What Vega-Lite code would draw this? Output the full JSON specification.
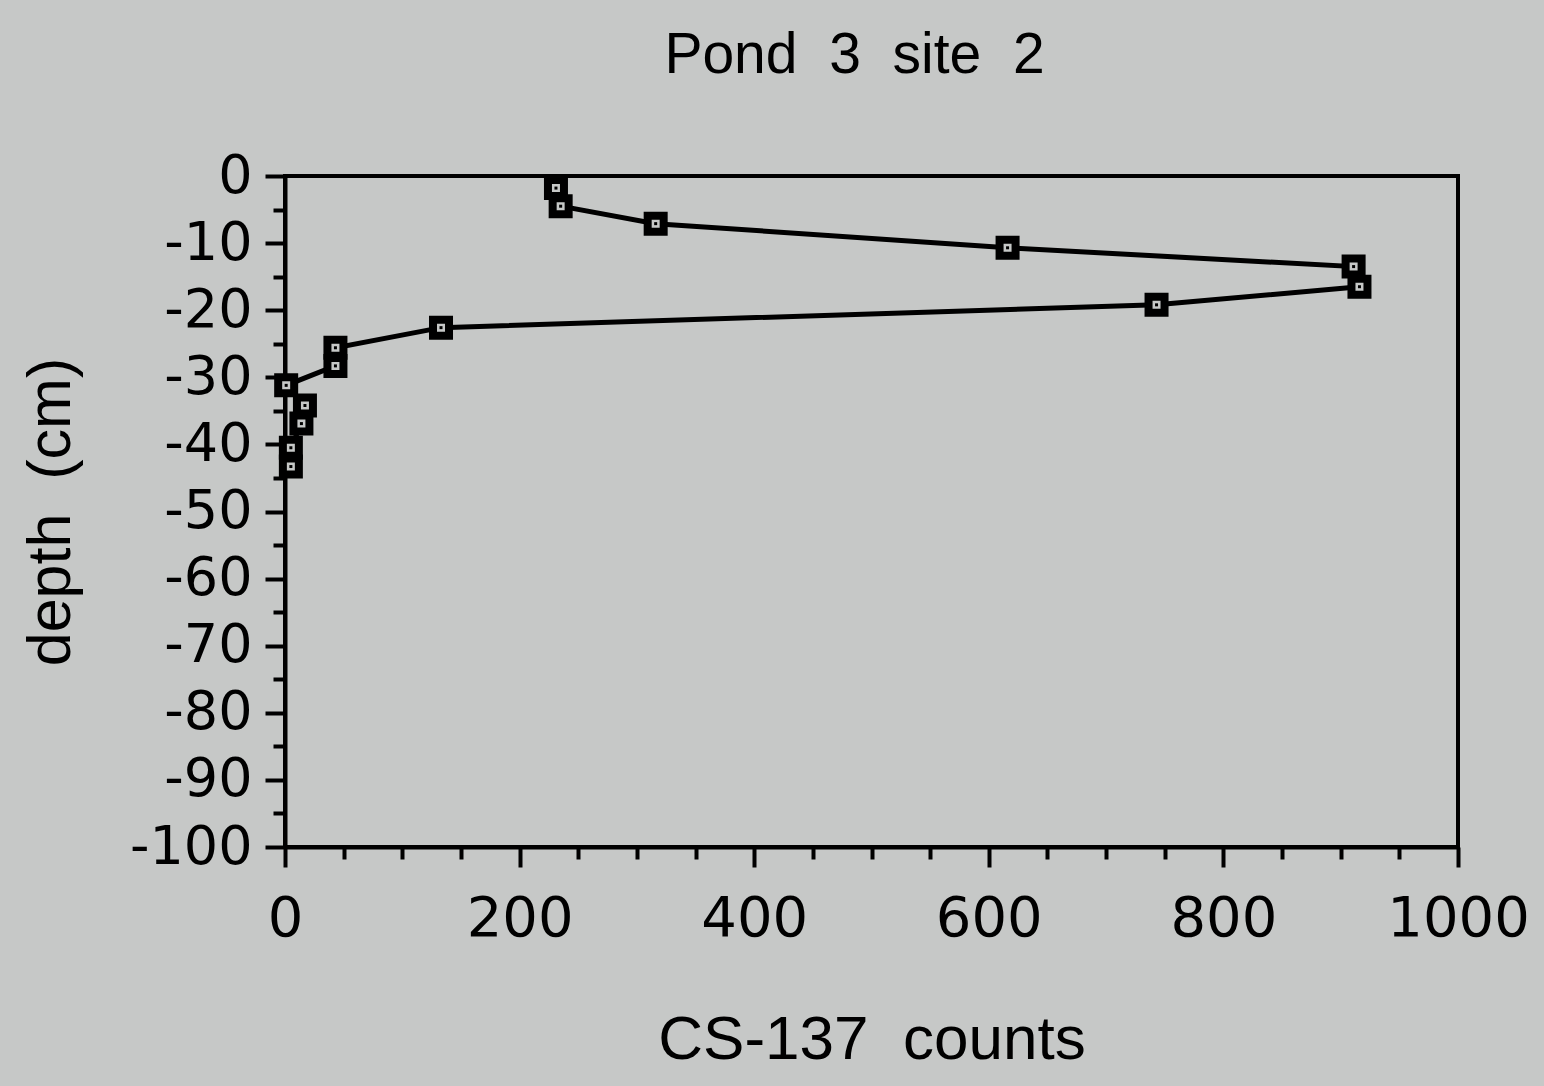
{
  "$schema": "https://vega.github.io/schema/vega-lite/v6.json",
  "width": 1173,
  "height": 671,
  "autosize": "none",
  "padding": {"left": 285, "top": 176, "right": 86, "bottom": 239},
  "background": "#c6c8c7",
  "title": {"text": "Pond\u00a0 3\u00a0 site\u00a0 2", "font": "Liberation Sans", "fontSize": 57, "fontWeight": "normal", "color": "#000000", "offset": 64, "frame": "group", "dx": -17},
  "config": {"view": {"stroke": "#000000", "strokeWidth": 4}},
  "data": {"values": [
    {"i": 1, "counts": 231, "depth": -1.8},
    {"i": 2, "counts": 235, "depth": -4.5},
    {"i": 3, "counts": 316, "depth": -7.1},
    {"i": 4, "counts": 616, "depth": -10.7},
    {"i": 5, "counts": 911, "depth": -13.5},
    {"i": 6, "counts": 916, "depth": -16.5},
    {"i": 7, "counts": 743, "depth": -19.2},
    {"i": 8, "counts": 133, "depth": -22.6},
    {"i": 9, "counts": 43, "depth": -25.6},
    {"i": 10, "counts": 43, "depth": -28.3},
    {"i": 11, "counts": 1, "depth": -31.2},
    {"i": 12, "counts": 17, "depth": -34.2},
    {"i": 13, "counts": 14, "depth": -36.9},
    {"i": 14, "counts": 5, "depth": -40.5},
    {"i": 15, "counts": 5, "depth": -43.3}
  ]},
  "encoding": {
    "x": {"field": "counts", "type": "quantitative", "scale": {"domain": [0, 1000], "nice": false, "zero": false},
      "axis": {"values": [0,50,100,150,200,250,300,350,400,450,500,550,600,650,700,750,800,850,900,950,1000],
        "labelExpr": "datum.value % 200 === 0 ? toString(datum.value) : ''",
        "tickSize": {"condition": {"test": "datum.value % 200 === 0", "value": 20}, "value": 12},
        "tickWidth": 4, "tickColor": "#000000", "domainWidth": 4, "domainColor": "#000000",
        "labelFont": "DejaVu Sans", "labelFontSize": 56, "labelColor": "#000000", "labelPadding": 24,
        "labelFlush": false, "labelOverlap": false, "grid": false,
        "title": "CS-137\u00a0 counts", "titleFont": "Liberation Sans", "titleFontSize": 62, "titleFontWeight": "normal", "titleColor": "#000000", "titlePadding": 63}},
    "y": {"field": "depth", "type": "quantitative", "scale": {"domain": [-100, 0], "nice": false, "zero": false},
      "axis": {"values": [-100,-95,-90,-85,-80,-75,-70,-65,-60,-55,-50,-45,-40,-35,-30,-25,-20,-15,-10,-5,0],
        "labelExpr": "datum.value % 10 === 0 ? toString(datum.value) : ''",
        "tickSize": {"condition": {"test": "datum.value % 10 === 0", "value": 20}, "value": 12},
        "tickWidth": 4, "tickColor": "#000000", "domainWidth": 4, "domainColor": "#000000",
        "labelFont": "DejaVu Sans", "labelFontSize": 54, "labelColor": "#000000", "labelPadding": 13,
        "labelFlush": false, "labelOverlap": false, "grid": false,
        "title": "depth\u00a0 (cm)", "titleFont": "Liberation Sans", "titleFontSize": 61, "titleFontWeight": "normal", "titleColor": "#000000", "titlePadding": 47}}
  },
  "layer": [
    {"mark": {"type": "line", "color": "#000000", "strokeWidth": 5}, "encoding": {"order": {"field": "i", "type": "quantitative"}}},
    {"mark": {"type": "point", "shape": "square", "size": 256, "filled": false, "fill": "#c6c8c7", "fillOpacity": 1, "stroke": "#000000", "strokeWidth": 8, "opacity": 1}},
    {"mark": {"type": "point", "shape": "square", "size": 9, "filled": true, "color": "#000000", "opacity": 1}}
  ]
}
